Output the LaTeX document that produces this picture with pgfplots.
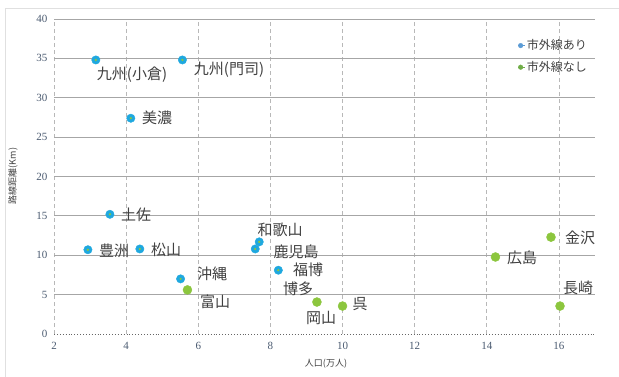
\documentclass[border=0pt]{standalone}
\usepackage{pgfplots}
\pgfplotsset{compat=1.18}
\usepackage{fontspec}
\setmainfont{Liberation Serif}
\newfontfamily\jp{Noto Sans CJK JP}
\definecolor{ptblue}{HTML}{1FA8DF}
\definecolor{ptgreen}{HTML}{8CC63E}
\definecolor{legblue}{HTML}{5B9BD5}
\definecolor{leggreen}{HTML}{70AD47}
\definecolor{ticktext}{HTML}{4A5A70}
\definecolor{lbl}{HTML}{404040}
\pgfplotstableread{
x y
3.16 34.8
5.56 34.8
4.13 27.4
3.55 15.2
2.94 10.7
4.38 10.8
5.51 7.0
7.69 11.7
7.58 10.8
8.22 8.1
}\withline
\pgfplotstableread{
x y
5.70 5.6
9.29 4.06
10.0 3.55
14.24 9.78
15.78 12.3
16.03 3.55
}\withoutline
\begin{document}
\begin{tikzpicture}
\useasboundingbox (0pt,0pt) rectangle (619pt,376pt);
\draw[color=black!12, line width=0.8pt] (5pt,-10pt) -- (5pt,368pt) -- (640pt,368pt);
\begin{axis}[
  at={(54pt,42pt)}, anchor=south west,
  scale only axis, width=541pt, height=315pt,
  xmin=2, xmax=17, ymin=0, ymax=40,
  xtick={2,4,...,16},
  ytick={5,10,...,40},
  extra y ticks={0},
  extra y tick style={ymajorgrids=false},
  axis line style={draw=none},
  major tick length=0pt,
  xmajorgrids, ymajorgrids,
  x grid style={color=black!28, dash pattern=on 4pt off 3pt, line width=0.8pt},
  y grid style={color=black!35, line width=0.8pt},
  tick label style={font=\rmfamily\fontsize{11}{13}\selectfont, color=ticktext},
  /pgf/number format/assume math mode=true,
  xticklabel style={yshift=-5pt},
  yticklabel style={xshift=-3pt},
  clip=false,
  legend style={at={(axis cs:14.78,37.9)}, anchor=north west, draw=none, fill=none,
    font=\jp\fontsize{12}{14}\selectfont, text=lbl, row sep=6pt,
    legend cell align=left},
  legend image code/.code={\fill (0cm,0cm) circle (2.3pt); \path (-2.3pt,0pt) -- (4pt,0pt);},
]
\addlegendimage{legblue, fill=legblue}
\addlegendentry{市外線あり}
\addlegendimage{leggreen, fill=leggreen}
\addlegendentry{市外線なし}
\draw[color=black!60, dotted, line width=0.9pt] (axis cs:2,0) -- (axis cs:17,0);
\addplot[only marks, mark=*, mark size=4.2pt, color=ptblue, mark options={draw=ptblue, fill=ptblue}, forget plot] table {\withline};
\addplot[only marks, mark=*, mark size=0.9pt, color=ptgreen, mark options={draw=ptgreen, fill=ptgreen}, forget plot] table {\withline};
\addplot[only marks, mark=*, mark size=4.5pt, color=ptgreen, mark options={draw=ptgreen, fill=ptgreen}, forget plot] table {\withoutline};
\end{axis}
\begin{scope}[every node/.style={font=\jp\fontsize{15}{18}\selectfont, text=lbl, inner sep=0pt}]
\node at (132pt,{376pt-75pt}) {九州(小倉)};
\node at (229pt,{376pt-70pt}) {九州(門司)};
\node at (157pt,{376pt-118pt}) {美濃};
\node at (136pt,{376pt-215pt}) {土佐};
\node at (114pt,{376pt-251pt}) {豊洲};
\node at (166pt,{376pt-250pt}) {松山};
\node at (212pt,{376pt-274pt}) {沖縄};
\node at (215pt,{376pt-302pt}) {富山};
\node at (280pt,{376pt-230pt}) {和歌山};
\node at (296pt,{376pt-252pt}) {鹿児島};
\node at (308pt,{376pt-270pt}) {福博};
\node at (298pt,{376pt-289pt}) {博多};
\node at (321pt,{376pt-318pt}) {岡山};
\node at (360pt,{376pt-304pt}) {呉};
\node at (522pt,{376pt-258pt}) {広島};
\node at (580pt,{376pt-238pt}) {金沢};
\node at (578pt,{376pt-288pt}) {長崎};
\end{scope}
\node[font=\jp\fontsize{9}{11}\selectfont, text=lbl] at (326pt,{376pt-364pt}) {人口(万人)};
\node[font=\jp\fontsize{9}{11}\selectfont, text=lbl, rotate=90] at (13pt,{376pt-176pt}) {路線距離(Km)};
\end{tikzpicture}
\end{document}
